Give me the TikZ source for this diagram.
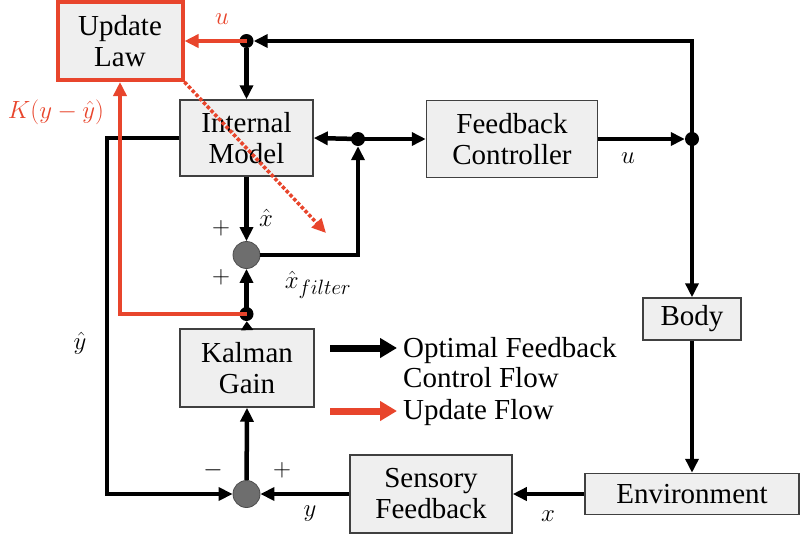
\documentclass[tikz,border=0pt]{standalone}
\usepackage{fontspec}
\setmainfont{Liberation Serif}
\usetikzlibrary{arrows.meta,calc}
\definecolor{ured}{HTML}{E8452C}
\definecolor{boxfill}{HTML}{EFEFEF}
\definecolor{sumfill}{HTML}{6E6E6E}
\begin{document}
\begin{tikzpicture}[x=1pt,y=-1pt,
  box/.style={draw=black!75, fill=boxfill, line width=1.5pt, align=center, inner sep=0pt,
    font=\fontsize{29}{31}\selectfont},
  redbox/.style={box, draw=ured, line width=4pt},
  sumnode/.style={circle, draw=black!70, fill=sumfill, minimum size=27pt, inner sep=0pt, line width=0.8pt},
  dot/.style={circle, fill=black, minimum size=14pt, inner sep=0pt},
  flow/.style={line width=4.5pt, -{Triangle[length=14pt,width=13pt]}},
  rflow/.style={flow, draw=ured, line width=4pt},
  lbl/.style={inner sep=0pt, font=\fontsize{31}{33}\selectfont},
  rlbl/.style={lbl, text=ured},
  legtext/.style={inner sep=0pt, align=left, anchor=west, font=\fontsize{29}{30}\selectfont}
]
\useasboundingbox (0,0) rectangle (800,552);

% boxes
\node[redbox, minimum width=125pt, minimum height=78pt] (UL) at (120,41) {Update\\Law};
\node[box, minimum width=133pt, minimum height=76pt] (IM) at (246.5,138) {Internal\\Model};
\node[box, minimum width=171pt, minimum height=77pt] (FC) at (512,139) {Feedback\\Controller};
\node[box, minimum width=98pt, minimum height=42pt] (BD) at (692,319) {Body};
\node[box, minimum width=214pt, minimum height=41pt] (EN) at (692,494) {Environment};
\node[box, minimum width=162pt, minimum height=78pt] (SF) at (431,494) {Sensory\\Feedback};
\node[box, minimum width=134pt, minimum height=78pt] (KG) at (247,368) {Kalman\\Gain};

% summing junctions and dots
\node[sumnode] (S1) at (246.5,255) {};
\node[sumnode] (S2) at (246.5,494) {};
\node[dot] (D1) at (246.5,41) {};
\node[dot] (D2) at (358,139) {};
\node[dot] (D3) at (692,139) {};
\node[dot] (D4) at (246.5,314) {};
\coordinate (CL) at (107,138);
\coordinate (TIP) at (326,233);

% black flows
\draw[flow] (D3.center) |- (D1);
\draw[flow] (D1) -- (IM.north);
\draw[flow] (D2.center) -- (IM.east);
\draw[flow] (D2.center) -- (FC.west);
\draw[flow] (FC.east) -- (D3);
\draw[flow] (D3.center) -- (BD.north);
\draw[flow] (BD.south) -- (EN.north);
\draw[flow] (EN.west) -- (SF.east);
\draw[flow] (SF.west) -- (S2);
\draw[flow] (S2) -- (KG.south);
\draw[flow, -{Triangle[length=9pt,width=12pt]}] (KG.north) -- (D4);
\draw[flow] (D4.center) -- (S1);
\draw[flow] (IM.south) -- (S1);
\draw[flow] (S1.east) -| (D2);
\draw[flow] (IM.west) -- (CL) |- (S2);

% red flows
\draw[rflow] (D1.center) -- (UL.east);
\draw[rflow] (D4.center) -| (UL.south);
\draw[ured, line width=3.5pt, dotted, -{Triangle[length=14pt,width=13pt]}] (UL.south east) -- (TIP);

% labels
\node[rlbl] (lu) at (222,19) {$u$};
\node[rlbl, font=\fontsize{29}{31}\selectfont] (lk) at (56,112) {$K(y-\hat{y})$};
\node[lbl] (lu2) at (628,158) {$u$};
\node[lbl] (lxh) at (266,218) {$\hat{x}$};
\node[lbl] (lp1) at (221,228) {$+$};
\node[lbl] (lp2) at (221,277) {$+$};
\node[lbl] (lxf) at (318,285) {$\hat{x}_{filter}$};
\node[lbl] (lyh) at (80,343) {$\hat{y}$};
\node[lbl] (lm) at (213,470) {$-$};
\node[lbl] (lp3) at (282,470) {$+$};
\node[lbl] (ly) at (310,514) {$y$};
\node[lbl] (lx) at (548,516) {$x$};

% legend
\coordinate (LA1) at (330,348);
\coordinate (LB1) at (397,348);
\coordinate (LA2) at (330,411);
\coordinate (LB2) at (397,411);
\draw[line width=7pt, -{Triangle[length=17pt,width=19pt]}] (LA1) -- (LB1);
\draw[ured, line width=7pt, -{Triangle[length=17pt,width=19pt]}] (LA2) -- (LB2);
\node[legtext] (LT1) at (403,363) {Optimal Feedback\\Control Flow};
\node[legtext] (LT2) at (403,413) {Update Flow};
\end{tikzpicture}
\end{document}
